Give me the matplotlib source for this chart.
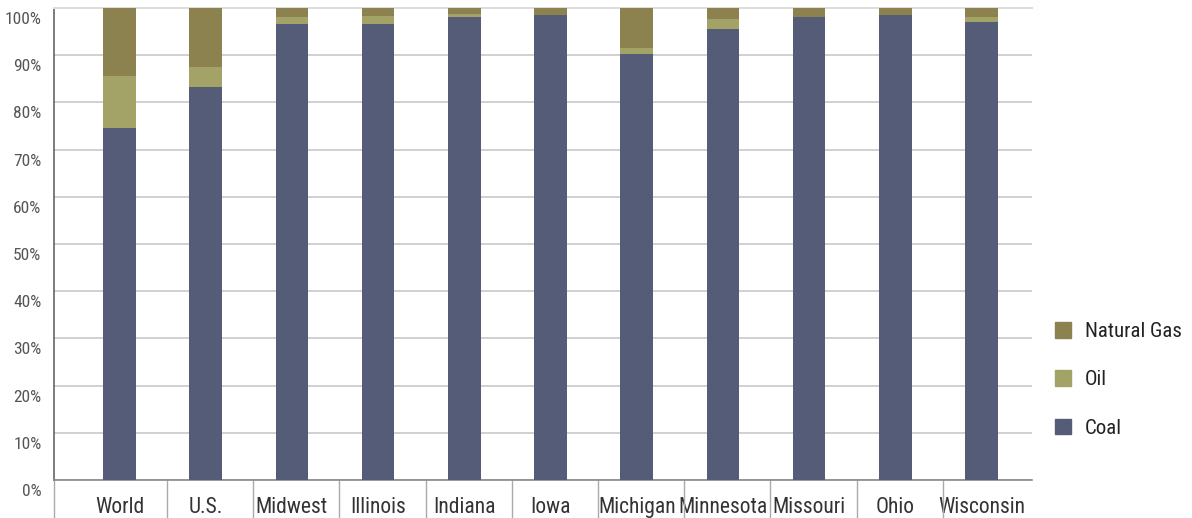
import numpy as np
import matplotlib
matplotlib.use("Agg")
import matplotlib.pyplot as plt
import matplotlib.transforms as mtransforms
from matplotlib import font_manager
from matplotlib.patches import Patch

# 字体：优先使用窄体
fonts = font_manager.fontManager.ttflist
names = {f.name for f in fonts}
stretch = 'normal'
family = 'Roboto'
for cand in ['Liberation Sans Narrow', 'Roboto Condensed', 'Open Sans Condensed']:
    if cand in names:
        family = cand
        break
else:
    if any(f.name == 'DejaVu Sans' and f.stretch == 'condensed' for f in fonts):
        family = 'DejaVu Sans'
        stretch = 'condensed'
plt.rcParams['font.family'] = [family, 'DejaVu Sans']
plt.rcParams['font.stretch'] = stretch

# 数据
regions = ['World', 'U.S.', 'Midwest', 'Illinois', 'Indiana', 'Iowa',
           'Michigan', 'Minnesota', 'Missouri', 'Ohio', 'Wisconsin']
coal = [74.5, 83.3, 96.7, 96.7, 98.0, 98.5, 90.2, 95.6, 98.0, 98.5, 97.0]
oil = [11.0, 4.3, 1.3, 1.6, 0.7, 0.0, 1.3, 2.0, 0.0, 0.0, 1.1]
gas = [14.5, 12.4, 2.0, 1.7, 1.3, 1.5, 8.5, 2.4, 2.0, 1.5, 1.9]
y_ticks = list(range(0, 101, 10))

c_coal = '#545c77'
c_oil = '#a3a267'
c_gas = '#8c8250'

fig = plt.figure(figsize=(11.92, 5.18), dpi=100)
ax = fig.add_axes([54 / 1192, 1 - 480 / 518, (1032 - 54) / 1192, (480 - 8) / 518])

x = np.arange(len(regions))
w = 0.38
coal = np.array(coal)
oil = np.array(oil)
gas = np.array(gas)
ax.bar(x, coal, w, color=c_coal, zorder=3)
ax.bar(x, oil, w, bottom=coal, color=c_oil, zorder=3)
ax.bar(x, gas, w, bottom=coal + oil, color=c_gas, zorder=3)

ax.set_xlim(-0.76, 10.586)
ax.set_ylim(0, 100)

# 网格
ax.set_yticks(y_ticks)
ax.set_yticklabels([f'{v}%' for v in y_ticks])
ax.yaxis.grid(True, color='#c8c8c8', linewidth=1.2, zorder=0)
ax.tick_params(axis='y', length=0, pad=9, labelsize=12.5, labelcolor='#555555')
offset = mtransforms.ScaledTranslation(0, -10 / 100, fig.dpi_scale_trans)
for lab in ax.get_yticklabels():
    lab.set_transform(lab.get_transform() + offset)

# x轴分类标签及分隔线
ax.set_xticks(x)
ax.set_xticklabels(regions)
ax.tick_params(axis='x', which='major', length=0, pad=12, labelsize=15.5,
               labelcolor='#333333')
seps = [-0.76] + [i + 0.55 for i in range(10)]
ax.set_xticks(seps, minor=True)
ax.tick_params(axis='x', which='minor', length=28, width=1.0, color='#aaaaaa')

ax.spines['right'].set_visible(False)
ax.spines['top'].set_color('#dddddd')
ax.spines['top'].set_linewidth(1.5)
ax.spines['left'].set_color('#666666')
ax.spines['left'].set_linewidth(1.2)
ax.spines['bottom'].set_color('#888888')
ax.spines['bottom'].set_linewidth(1.2)

# 图例
handles = [Patch(color=c_gas, label='Natural Gas'),
           Patch(color=c_oil, label='Oil'),
           Patch(color=c_coal, label='Coal')]
fig.legend(handles=handles, loc='upper left',
           bbox_to_anchor=(1036 / 1192, 1 - 303 / 518),
           frameon=False, fontsize=15, handlelength=0.8, handleheight=0.8,
           handletextpad=0.65, labelspacing=1.4, labelcolor='#222222')

fig.savefig('out.png', dpi=100)
